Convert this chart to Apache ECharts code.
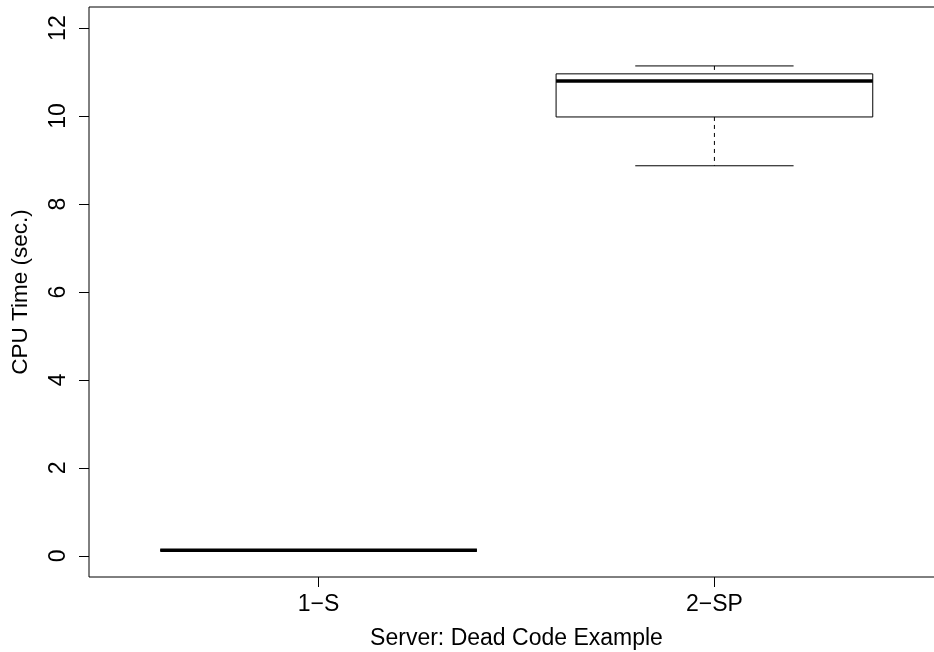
<!DOCTYPE html>
<html>
<head>
<meta charset="utf-8">
<script src="https://cdn.jsdelivr.net/npm/echarts@6/dist/echarts.min.js"></script>
<style>
html, body { margin: 0; padding: 0; background: #fff; }
#chart { width: 934px; height: 652px; }
</style>
</head>
<body>
<div id="chart"></div>
<script>
// box summaries
const categories = ['1\u2212S', '2\u2212SP'];
const lowWhisker = [0.13, 8.87];
const lowerQuartile = [0.13, 9.98];
const medians = [0.13, 10.80];
const upperQuartile = [0.13, 10.96];
const highWhisker = [0.13, 11.14];
const yTicks = [0, 2, 4, 6, 8, 10, 12];
const xTicks = [1, 2];

const FONT = '"Liberation Sans", Arial, sans-serif';

const boxData = categories.map((c, i) => [
    i + 1, lowWhisker[i], lowerQuartile[i], medians[i], upperQuartile[i], highWhisker[i]
]);

function renderBox(params, api) {
    const x = api.value(0);
    const lo = api.value(1), q1 = api.value(2), med = api.value(3), q3 = api.value(4), hi = api.value(5);
    const bw = 0.4, sw = 0.2;
    const pTL = api.coord([x - bw, q3]);
    const pBR = api.coord([x + bw, q1]);
    const pMidHi = api.coord([x, hi]);
    const pMidQ3 = api.coord([x, q3]);
    const pMidQ1 = api.coord([x, q1]);
    const pMidLo = api.coord([x, lo]);
    const sL = api.coord([x - sw, 0])[0], sR = api.coord([x + sw, 0])[0];
    const mL = api.coord([x - bw, med]), mR = api.coord([x + bw, med]);
    const thin = { stroke: '#000', lineWidth: 1 };
    const dashed = { stroke: '#000', lineWidth: 1, lineDash: [4, 4] };
    return {
        type: 'group',
        children: [
            { type: 'line', shape: { x1: pMidHi[0], y1: pMidHi[1], x2: pMidQ3[0], y2: pMidQ3[1] }, style: dashed },
            { type: 'line', shape: { x1: pMidQ1[0], y1: pMidQ1[1], x2: pMidLo[0], y2: pMidLo[1] }, style: dashed },
            { type: 'line', shape: { x1: sL, y1: pMidHi[1], x2: sR, y2: pMidHi[1] }, style: thin },
            { type: 'line', shape: { x1: sL, y1: pMidLo[1], x2: sR, y2: pMidLo[1] }, style: thin },
            { type: 'rect', shape: { x: pTL[0], y: pTL[1], width: pBR[0] - pTL[0], height: pBR[1] - pTL[1] },
              style: { fill: 'none', stroke: '#000', lineWidth: 1 } },
            { type: 'line', shape: { x1: mL[0], y1: mL[1], x2: mR[0], y2: mR[1] },
              style: { stroke: '#000', lineWidth: 3.5 } }
        ]
    };
}

const chart = echarts.init(document.getElementById('chart'), null, { renderer: 'canvas' });
chart.setOption({
    animation: false,
    backgroundColor: '#fff',
    grid: {
        left: 89, top: 7, right: -10, bottom: 75,
        containLabel: false,
        outerBoundsMode: 'none',
        show: true, borderColor: '#000', borderWidth: 1, backgroundColor: 'transparent'
    },
    xAxis: {
        type: 'value',
        min: 0.42, max: 2.58,
        name: 'Server: Dead Code Example',
        nameLocation: 'middle',
        nameGap: 50,
        nameTextStyle: { fontFamily: FONT, fontSize: 23, color: '#000' },
        axisLine: { show: false, onZero: false },
        splitLine: { show: false },
        axisTick: { show: true, customValues: xTicks, length: 10, inside: false, lineStyle: { color: '#000' } },
        axisLabel: {
            customValues: xTicks,
            formatter: v => categories[Math.round(v) - 1],
            margin: 16,
            fontFamily: FONT, fontSize: 23, color: '#000'
        }
    },
    yAxis: {
        type: 'value',
        min: -0.48, max: 12.48,
        name: 'CPU Time (sec.)',
        nameLocation: 'middle',
        nameGap: 57,
        nameTextStyle: { fontFamily: FONT, fontSize: 22.5, color: '#000' },
        axisLine: { show: false, onZero: false },
        splitLine: { show: false },
        axisTick: { show: true, customValues: yTicks, length: 10, inside: false, lineStyle: { color: '#000' } },
        axisLabel: {
            customValues: yTicks,
            rotate: 90,
            margin: 19,
            fontFamily: FONT, fontSize: 23, color: '#000'
        }
    },
    series: [{
        type: 'custom',
        renderItem: renderBox,
        encode: { x: 0, y: [1, 2, 3, 4, 5] },
        data: boxData,
        clip: true
    }]
});
</script>
</body>
</html>
